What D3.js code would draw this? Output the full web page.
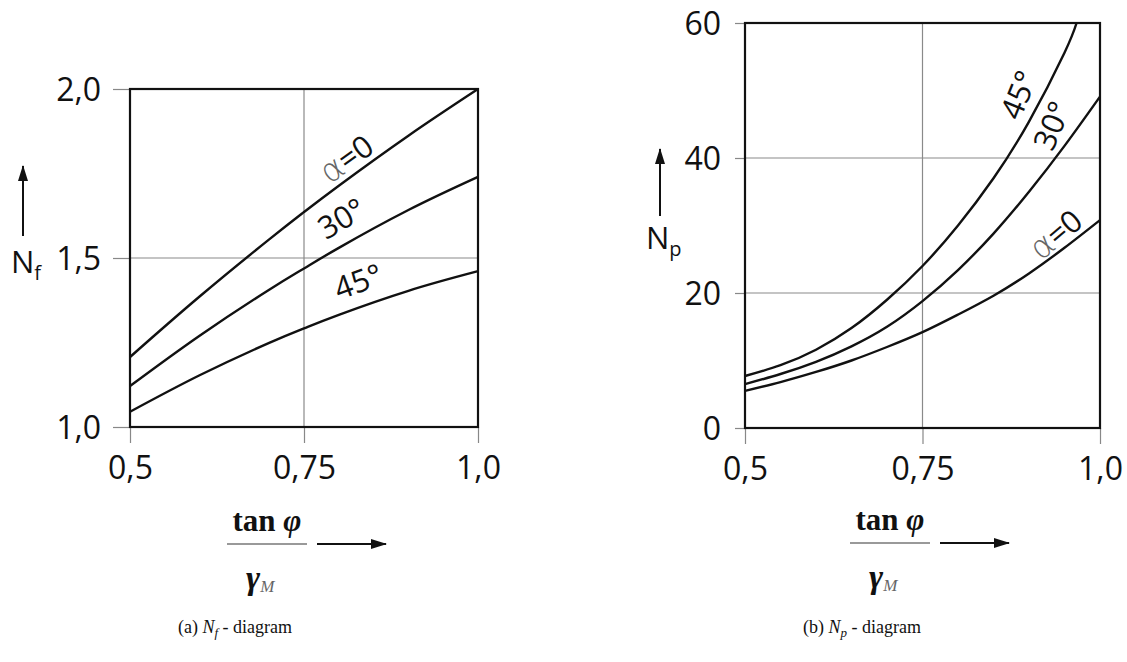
<!DOCTYPE html>
<html><head><meta charset="utf-8">
<script src="https://cdn.jsdelivr.net/npm/d3@7"></script>
<style>
body{margin:0;background:#fff;}
svg{display:block;}
</style></head>
<body>
<svg id="chart" width="1127" height="662"></svg>
<script>
// ---------- DATA ----------
const angles = ["α=0", "30°", "45°"];

// (a) N_f diagram
const nfX = [0.5, 0.6, 0.7, 0.75, 0.8, 0.9, 1.0];
const nfAlpha0 = [1.207, 1.386, 1.555, 1.636, 1.714, 1.862, 2.0];
const nf30 = [1.121, 1.270, 1.406, 1.469, 1.530, 1.642, 1.740];
const nf45 = [1.045, 1.153, 1.249, 1.292, 1.332, 1.403, 1.461];
const nfXTicks = [0.5, 0.75, 1.0];
const nfXTickLabels = ["0,5", "0,75", "1,0"];
const nfYTicks = [1.0, 1.5, 2.0];
const nfYTickLabels = ["1,0", "1,5", "2,0"];

// (b) N_p diagram
const npX = [0.5, 0.55, 0.6, 0.65, 0.7, 0.75, 0.8, 0.85, 0.9, 0.95, 1.0];
const npAlpha0 = [5.5, 6.8, 8.3, 10.0, 12.0, 14.2, 16.8, 19.6, 22.9, 26.7, 30.8];
const np30 = [6.5, 8.0, 9.8, 12.1, 15.0, 18.8, 23.4, 28.8, 35.0, 41.8, 49.1];
const np45X = [0.5, 0.55, 0.6, 0.65, 0.7, 0.75, 0.8, 0.85, 0.9, 0.95, 0.967];
const np45 = [7.7, 9.3, 11.6, 14.8, 19.0, 24.0, 30.0, 37.0, 45.4, 55.6, 60.0];
const npXTicks = [0.5, 0.75, 1.0];
const npXTickLabels = ["0,5", "0,75", "1,0"];
const npYTicks = [0, 20, 40, 60];
const npYTickLabels = ["0", "20", "40", "60"];

// ---------- DRAW ----------
const svg = d3.select("#chart");
const defs = svg.append("defs");
defs.append("marker").attr("id", "arrow").attr("viewBox", "0 0 16 12")
  .attr("refX", 15).attr("refY", 6).attr("markerWidth", 16).attr("markerHeight", 12)
  .attr("markerUnits", "userSpaceOnUse").attr("orient", "auto")
  .append("path").attr("d", "M0,1 L16,6 L0,11 Z").attr("fill", "#111");

const sans = "'Open Sans','Noto Sans',sans-serif";
const serif = "'Liberation Serif','DejaVu Serif',serif";

function panel(cfg) {
  const g = svg.append("g");
  const x = d3.scaleLinear().domain([0.5, 1.0]).range([cfg.left, cfg.right]);
  const y = d3.scaleLinear().domain(cfg.yDomain).range([cfg.bottom, cfg.top]);

  // grid
  cfg.grid.x.forEach(v => g.append("line").attr("x1", x(v)).attr("x2", x(v))
    .attr("y1", cfg.top).attr("y2", cfg.bottom).attr("stroke", "#8a8a8a").attr("stroke-width", 1.2));
  cfg.grid.y.forEach(v => g.append("line").attr("y1", y(v)).attr("y2", y(v))
    .attr("x1", cfg.left).attr("x2", cfg.right).attr("stroke", "#8a8a8a").attr("stroke-width", 1.2));

  // axes (ticks outward)
  const yAxis = d3.axisLeft(y).tickValues(cfg.yTicks).tickFormat((d, i) => cfg.yTickLabels[i])
    .tickSize(cfg.yTickSize).tickPadding(cfg.yTickPad);
  const ya = g.append("g").attr("transform", `translate(${cfg.left},0)`).call(yAxis);
  const xAxis = d3.axisBottom(x).tickValues(cfg.xTicks).tickFormat((d, i) => cfg.xTickLabels[i])
    .tickSize(16).tickPadding(13);
  const xa = g.append("g").attr("transform", `translate(0,${cfg.bottom})`).call(xAxis);
  [ya, xa].forEach(a => {
    a.select(".domain").remove();
    a.selectAll(".tick line").attr("stroke", "#888").attr("stroke-width", 1.2);
    a.selectAll(".tick text").attr("font-family", sans).attr("font-size", 32)
      .attr("font-weight", 500).attr("fill", "#111");
  });
  ya.selectAll(".tick text").attr("dy", "0.36em");

  // frame
  g.append("rect").attr("x", cfg.left).attr("y", cfg.top)
    .attr("width", cfg.right - cfg.left).attr("height", cfg.bottom - cfg.top)
    .attr("fill", "none").attr("stroke", "#111").attr("stroke-width", 2.2);

  // curves
  const line = d3.line().x(d => x(d[0])).y(d => y(d[1])).curve(d3.curveNatural);
  cfg.series.forEach(s => {
    g.append("path").datum(s.x.map((v, i) => [v, s.y[i]])).attr("d", line)
      .attr("fill", "none").attr("stroke", "#111").attr("stroke-width", 2.4);
  });

  // curve labels
  cfg.labels.forEach(l => {
    const t = g.append("text").attr("transform", `translate(${l.px},${l.py}) rotate(${l.rot})`)
      .attr("font-family", sans).attr("font-size", 31).attr("font-weight", 500).attr("fill", "#111")
      .attr("text-anchor", "middle");
    if (l.text.startsWith("α")) {
      t.append("tspan").text("α").attr("fill", "#666").attr("font-family", "'DejaVu Sans',sans-serif")
        .attr("font-weight", 200).attr("font-size", 33);
      t.append("tspan").text(l.text.slice(1));
    } else t.text(l.text);
  });

  // y label with arrow
  g.append("line").attr("x1", cfg.yArrowX).attr("x2", cfg.yArrowX)
    .attr("y1", cfg.yArrowY1).attr("y2", cfg.yArrowY0).attr("stroke", "#111").attr("stroke-width", 2)
    .attr("marker-end", "url(#arrow)");
  const yl = g.append("text").attr("x", cfg.yLabelX).attr("y", cfg.yLabelY)
    .attr("font-family", sans).attr("font-size", 31).attr("font-weight", 500).attr("fill", "#111");
  yl.append("tspan").text("N");
  yl.append("tspan").text(cfg.sub).attr("font-size", 20).attr("dy", 7);

  // x label (fraction) with arrow
  const cx = cfg.fracX;
  g.append("text").attr("x", cx).attr("y", cfg.fracY - 13).attr("text-anchor", "middle")
    .attr("font-family", serif).attr("font-weight", "bold")
    .attr("font-size", 31).attr("fill", "#111")
    .text("tan ").append("tspan").text("φ").attr("font-style", "italic");
  g.append("line").attr("x1", cx - 40).attr("x2", cx + 40).attr("y1", cfg.fracY).attr("y2", cfg.fracY)
    .attr("stroke", "#777").attr("stroke-width", 1.5);
  const gm = g.append("text").attr("x", cx - 21).attr("y", cfg.fracY + 45)
    .attr("font-family", serif).attr("fill", "#111");
  gm.append("tspan").text("γ").attr("font-size", 34).attr("font-weight", "bold").attr("font-style", "italic");
  gm.append("tspan").text("M").attr("font-size", 17).attr("font-style", "italic").attr("fill", "#666").attr("dy", 3);
  g.append("line").attr("x1", cx + 50).attr("x2", cx + 119).attr("y1", cfg.fracY).attr("y2", cfg.fracY)
    .attr("stroke", "#111").attr("stroke-width", 2).attr("marker-end", "url(#arrow)");

  // caption
  const cap = g.append("text").attr("x", cfg.capX).attr("y", 633).attr("text-anchor", "middle")
    .attr("font-family", serif).attr("font-size", 18).attr("fill", "#111");
  cap.append("tspan").text(cfg.capPre);
  cap.append("tspan").text("N").attr("font-style", "italic");
  cap.append("tspan").text(cfg.sub).attr("font-style", "italic").attr("font-size", 13).attr("dy", 4);
  cap.append("tspan").text(" - diagram").attr("dy", -4);
}

panel({
  left: 130, right: 478, top: 89, bottom: 427, yDomain: [1.0, 2.0],
  xTicks: nfXTicks, xTickLabels: nfXTickLabels, yTicks: nfYTicks, yTickLabels: nfYTickLabels,
  yTickSize: 17, yTickPad: 12,
  grid: { x: [0.75], y: [1.5] },
  series: [{ x: nfX, y: nfAlpha0 }, { x: nfX, y: nf30 }, { x: nfX, y: nf45 }],
  labels: [
    { text: angles[0], px: 353, py: 168, rot: -36 },
    { text: angles[1], px: 347, py: 228, rot: -30 },
    { text: angles[2], px: 362, py: 292, rot: -20 }
  ],
  yArrowX: 23, yArrowY0: 166, yArrowY1: 236, yLabelX: 11, yLabelY: 273, sub: "f",
  fracX: 267, fracY: 544, capX: 235, capPre: "(a) "
});

panel({
  left: 745, right: 1100, top: 23, bottom: 428, yDomain: [0, 60],
  xTicks: npXTicks, xTickLabels: npXTickLabels, yTicks: npYTicks, yTickLabels: npYTickLabels,
  yTickSize: 10, yTickPad: 14,
  grid: { x: [0.75], y: [20, 40] },
  series: [{ x: npX, y: npAlpha0 }, { x: npX, y: np30 }, { x: np45X, y: np45 }],
  labels: [
    { text: angles[0], px: 1063, py: 243, rot: -40 },
    { text: angles[1], px: 1062, py: 130, rot: -67 },
    { text: angles[2], px: 1029, py: 99, rot: -68 }
  ],
  yArrowX: 660, yArrowY0: 149, yArrowY1: 216, yLabelX: 646, yLabelY: 249, sub: "p",
  fracX: 890, fracY: 543, capX: 862, capPre: "(b) "
});
</script>
</body></html>
